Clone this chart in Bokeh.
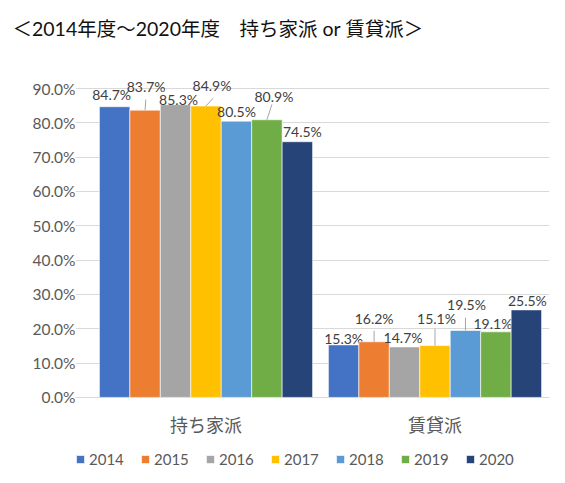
from bokeh.plotting import figure
from bokeh.models import (Range1d, FixedTicker, PrintfTickFormatter,
                          ColumnDataSource, Legend, LegendItem)
from bokeh.core.properties import value
from bokeh.embed import file_html
from bokeh.resources import INLINE

# ---------------- data ----------------
title_text = "＜2014年度～2020年度　持ち家派 or 賃貸派＞"
categories = ["持ち家派", "賃貸派"]
years = ["2014", "2015", "2016", "2017", "2018", "2019", "2020"]
owner_share = [84.7, 83.7, 85.3, 84.9, 80.5, 80.9, 74.5]   # 持ち家派 (%)
renter_share = [15.3, 16.2, 14.7, 15.1, 19.5, 19.1, 25.5]  # 賃貸派 (%)
y_ticks = [0, 10, 20, 30, 40, 50, 60, 70, 80, 90]

# ---------------- style ----------------
colors = ["#4472C4", "#ED7D31", "#A5A5A5", "#FFC000", "#5B9BD5", "#70AD47", "#264478"]
# data-label placement: pixel offsets of the label centre from the bar-top centre
label_dx = [[-3, 1, 3, 6, 0, 7, 5], [0, 0, -1.5, 1.5, 1, -3, 1]]
label_dy = [[-12, -24, -5, -21, -10, -23, -10], [-6, -23, -9, -27, -26, -8, -9]]
# leader lines: (category index, year index, horizontal lean in x units, length in %)
leaders = [(0, 1, 0.003, 3.1), (0, 3, 0.031, 2.3), (0, 5, 0.022, 4.5),
           (1, 1, 0.0, 3.2), (1, 3, 0.0, 4.9), (1, 4, 0.0, 3.7)]
bar_w = 0.133
grey = "#595959"
lat = "Lato, 'Noto Sans CJK JP'"
cjk = "Noto Sans CJK JP"

p = figure(width=565, height=483, output_backend="svg", toolbar_location=None,
           x_range=Range1d(-16 / 229, 2), y_range=Range1d(-25.09, 98.75),
           min_border_left=75, min_border_right=16, min_border_top=57, min_border_bottom=0)

p.title.text = title_text
p.title.text_font = lat
p.title.text_font_size = "19.5px"
p.title.text_font_style = "normal"
p.title.text_color = "#111111"
p.title.align = "left"
p.title.vertical_align = "top"
p.title.offset = -63
p.title.standoff = 33

values = [owner_share, renter_share]
items = []
for i, yr in enumerate(years):
    xs = [g + 0.5 + (i - 3) * bar_w for g in range(len(categories))]
    src = ColumnDataSource(dict(
        x=xs,
        val=[values[g][i] for g in range(2)],
        lbl=["%.1f%%" % values[g][i] for g in range(2)],
        dx=[label_dx[g][i] for g in range(2)],
        dy=[label_dy[g][i] for g in range(2)],
    ))
    r = p.vbar(x="x", top="val", bottom=0, width=bar_w, source=src,
               fill_color=colors[i], line_color="white", line_width=0.6)
    items.append(LegendItem(label=yr, renderers=[r]))
    p.text(x="x", y="val", text="lbl", source=src,
           x_offset="dx", y_offset="dy", text_align="center", text_baseline="middle",
           text_font=value("Lato"), text_font_size="14px", text_color="#404040")

lsrc = ColumnDataSource(dict(
    x0=[l[0] + 0.5 + (l[1] - 3) * bar_w for l in leaders],
    x1=[l[0] + 0.5 + (l[1] - 3) * bar_w + l[2] for l in leaders],
    y0=[values[l[0]][l[1]] for l in leaders],
    y1=[values[l[0]][l[1]] + l[3] for l in leaders],
))
p.segment(x0="x0", y0="y0", x1="x1", y1="y1", source=lsrc,
          line_color="#A6A6A6", line_width=1)

# category labels under the baseline
csrc = ColumnDataSource(dict(x=[g + 0.5 for g in range(len(categories))],
                             y=[0] * len(categories), t=categories))
p.text(x="x", y="y", text="t", source=csrc, y_offset=27, text_align="center",
       text_baseline="middle", text_font=value(cjk), text_font_size="18px",
       text_color=grey)

legend = Legend(items=items, orientation="horizontal", location=(0, 15),
                glyph_width=10, glyph_height=10, label_standoff=4, spacing=15,
                label_width=36, padding=0, margin=0, border_line_color=None,
                background_fill_alpha=0, label_text_font_size="15px",
                label_text_color=grey, label_text_font="Lato")
p.add_layout(legend, "center")

p.yaxis.ticker = FixedTicker(ticks=y_ticks)
p.yaxis.formatter = PrintfTickFormatter(format="%.1f%%")
p.yaxis.axis_line_color = None
p.yaxis.major_tick_line_color = None
p.yaxis.minor_tick_line_color = None
p.yaxis.major_tick_out = 0
p.yaxis.major_tick_in = 0
p.yaxis.major_label_text_font = "Lato"
p.yaxis.major_label_text_font_size = "15.5px"
p.yaxis.major_label_text_color = grey
p.yaxis.major_label_standoff = 0

p.xaxis.visible = False

p.xgrid.grid_line_color = None
p.ygrid.grid_line_color = "#D9D9D9"
p.ygrid.ticker = FixedTicker(ticks=y_ticks)
p.ygrid.bounds = (0, 2)
p.outline_line_color = None
p.background_fill_color = "white"
p.border_fill_color = "white"

open("out.html", "w").write(file_html(p, INLINE))
